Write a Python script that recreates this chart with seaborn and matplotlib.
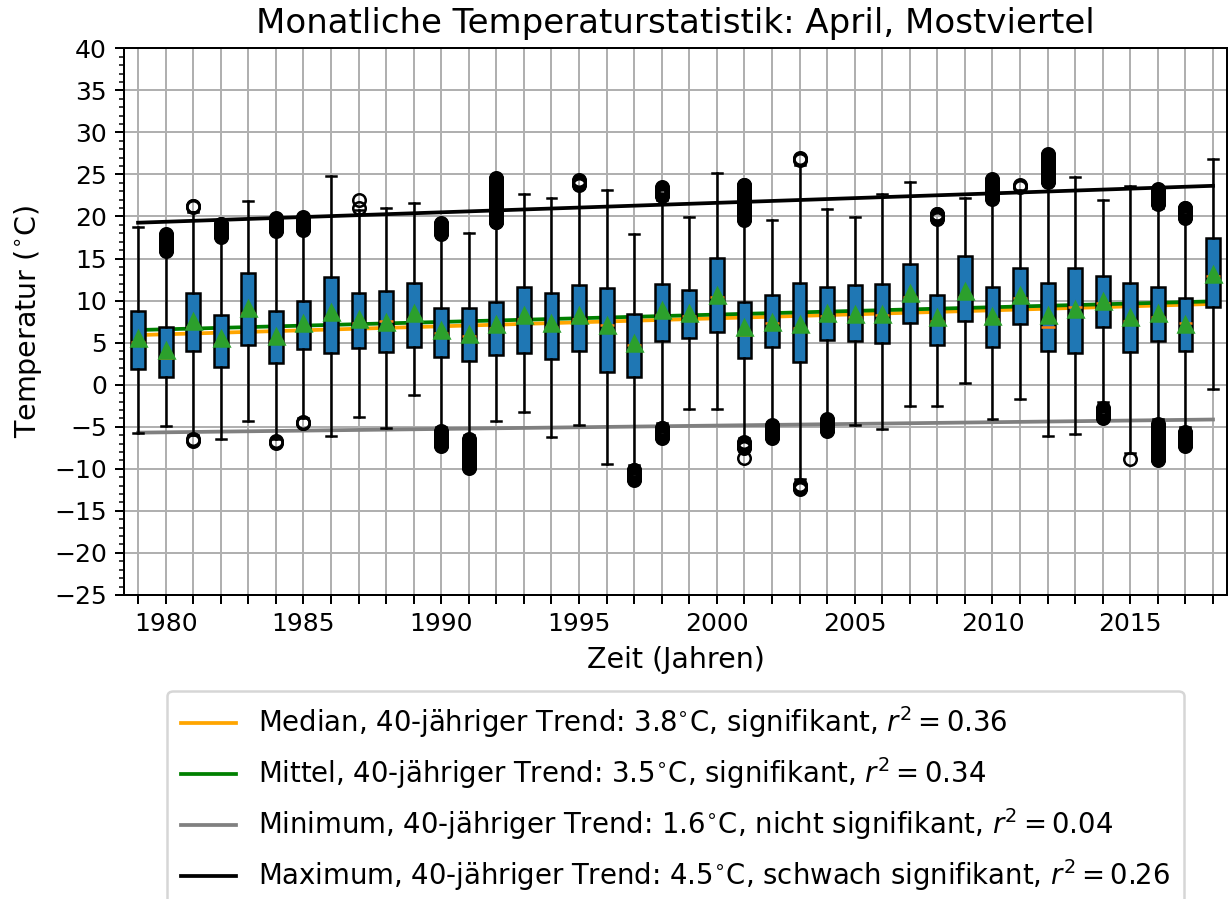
import numpy as np
import matplotlib
matplotlib.use("Agg")
import matplotlib.pyplot as plt
from matplotlib.ticker import MultipleLocator
import seaborn as sns

# April temperatures per year, Mostviertel
years = list(range(1979, 2019))
q1 = [1.83, 0.95, 4.04, 2.14, 4.68, 2.54, 4.20, 3.73, 4.33, 3.85,
      4.52, 3.33, 2.85, 3.50, 3.73, 3.02, 4.04, 1.47, 0.95, 5.23,
      5.52, 6.23, 3.17, 4.52, 2.66, 5.32, 5.23, 4.92, 7.30, 4.72,
      7.61, 4.52, 7.22, 4.04, 3.73, 6.90, 3.85, 5.23, 4.04, 9.27]
med = [5.04, 3.17, 6.90, 4.88, 8.56, 5.23, 6.70, 7.97, 7.30, 7.57,
       7.81, 6.11, 5.83, 6.70, 7.81, 6.90, 7.78, 7.10, 4.72, 8.29,
       8.20, 10.46, 5.87, 7.37, 6.70, 8.17, 8.01, 8.29, 10.39, 7.57,
       10.46, 7.78, 10.27, 6.90, 9.27, 9.68, 7.61, 8.09, 7.30, 12.96]
q3 = [8.76, 6.90, 10.94, 8.25, 13.32, 8.76, 9.91, 12.81, 10.94, 11.14,
      12.13, 9.08, 9.08, 9.80, 11.66, 10.94, 11.82, 11.46, 8.41, 11.97,
      11.26, 15.03, 9.80, 10.67, 12.13, 11.66, 11.82, 11.93, 14.31, 10.63,
      15.30, 11.66, 13.84, 12.13, 13.84, 12.96, 12.13, 11.66, 10.27, 17.41]
mean = [5.52, 4.13, 7.61, 5.52, 9.08, 5.79, 7.37, 8.60, 7.78, 7.49,
        8.49, 6.50, 6.03, 7.22, 8.29, 7.30, 8.29, 7.15, 4.92, 8.88,
        8.56, 10.67, 6.82, 7.49, 7.22, 8.56, 8.41, 8.37, 10.94, 8.01,
        11.18, 8.17, 10.67, 8.29, 8.96, 9.99, 8.09, 8.56, 7.22, 13.16]
whislo = [-5.71, -4.91, -6.0, -6.46, -4.28, -6.4, -4.0, -6.1, -3.88, -5.11,
          -1.22, -5.0, -6.0, -4.28, -3.25, -6.26, -4.79, -9.43, -9.6, -4.6,
          -2.89, -2.85, -6.3, -4.4, -11.2, -3.9, -4.76, -5.27, -2.53, -2.53,
          0.16, -4.12, -1.7, -6.1, -5.9, -2.0, -8.1, -4.1, -5.0, -0.51]
whishi = [18.7, 15.7, 20.5, 17.3, 21.84, 18.0, 18.2, 24.85, 20.8, 20.97,
          21.64, 17.6, 18.0, 19.0, 22.68, 22.16, 23.4, 23.16, 17.88, 22.0,
          19.9, 25.21, 19.4, 19.58, 26.1, 20.89, 19.9, 22.68, 24.14, 19.4,
          22.16, 21.8, 23.2, 23.8, 24.66, 21.96, 23.63, 21.0, 19.5, 26.84]
# outlier clusters as (lowest, highest) values
fl_hi = [[], [(15.9, 17.9)], [(21.1, 21.3)], [(17.56, 19.15)], [], [(18.3, 19.8)],
         [(18.4, 19.9)], [], [(21.05, 21.05), (21.95, 21.95)], [],
         [], [(17.96, 19.26)], [], [(19.3, 24.6)], [], [], [(23.8, 24.3)], [], [],
         [(22.4, 23.5)], [], [], [(19.6, 23.8)], [], [(26.7, 26.9)], [], [], [], [],
         [(19.74, 20.33)], [], [(22.1, 24.4)], [(23.5, 23.7)], [(24.1, 27.4)], [], [],
         [], [(21.45, 23.2)], [(19.85, 21.05)], []]
fl_lo = [[], [], [(-6.7, -6.5)], [], [], [(-6.9, -6.7)], [(-4.6, -4.4)], [], [], [],
         [], [(-7.3, -5.5)], [(-9.9, -6.5)], [], [], [], [], [], [(-11.3, -10.1)],
         [(-6.3, -5.1)], [], [], [(-8.75, -8.75), (-7.5, -6.8)], [(-6.3, -4.75)],
         [(-12.4, -11.9)], [(-5.5, -4.14)], [], [], [], [], [], [], [], [], [],
         [(-3.96, -2.76)], [(-8.8, -8.8)], [(-8.9, -4.74)], [(-7.3, -5.6)], []]

# trend lines: value in 1979 and change over 40 years (median, mean, min, max)
trend_start = [5.9, 6.5, -5.7, 19.26]
trend_40y = [3.8, 3.5, 1.6, 4.5]
trend_colors = ['orange', 'green', 'gray', 'black']
labels = ["Median, 40-jähriger Trend: 3.8$^{\\circ}$C, signifikant, $r^2=0.36$",
          "Mittel, 40-jähriger Trend: 3.5$^{\\circ}$C, signifikant, $r^2=0.34$",
          "Minimum, 40-jähriger Trend: 1.6$^{\\circ}$C, nicht signifikant, $r^2=0.04$",
          "Maximum, 40-jähriger Trend: 4.5$^{\\circ}$C, schwach signifikant, $r^2=0.26$"]

plt.rcParams['font.family'] = ['DejaVu Sans']

# Build box statistics for each year
stats = []
for i in range(len(years)):
    pts = []
    for lo, hi in fl_lo[i] + fl_hi[i]:
        pts.extend(np.arange(lo, hi + 0.05, 0.1))
    stats.append(dict(q1=q1[i], med=med[i], q3=q3[i], mean=mean[i],
                      whislo=whislo[i], whishi=whishi[i], fliers=np.array(pts)))

fig = plt.figure(figsize=(1228 / 180, 899 / 180), dpi=180)
ax = fig.add_axes([0.1012, 0.3382, 0.8978, 0.6081])

# Linear trends
yrs = np.array(years)
for start, tr, col, lab in zip(trend_start, trend_40y, trend_colors, labels):
    sns.lineplot(x=yrs, y=start + tr / 40 * (yrs - yrs[0]), color=col, lw=1.5,
                 label=lab, ax=ax)

ax.bxp(stats, positions=years, widths=0.5, capwidths=0.36, patch_artist=True,
       showmeans=True, manage_ticks=False,
       boxprops=dict(facecolor='C0', edgecolor='black'),
       medianprops=dict(color='C1'),
       meanprops=dict(marker='^', markerfacecolor='C2', markeredgecolor='C2', markersize=6),
       flierprops=dict(marker='o', markerfacecolor='none', markeredgecolor='black', markersize=5))

ax.set_xlim(1978.5, 2018.5)
ax.set_ylim(-25, 40)
ax.set_xticks(years)
ax.set_xticklabels([str(y) if y % 5 == 0 else '' for y in years])
ax.yaxis.set_major_locator(MultipleLocator(5))
ax.yaxis.set_minor_locator(MultipleLocator(1))
ax.tick_params(labelsize=10)
ax.grid(True, which='major')

ax.set_title('Monatliche Temperaturstatistik: April, Mostviertel', fontsize=13.6)
ax.set_xlabel('Zeit (Jahren)', fontsize=11.4)
ax.set_ylabel('Temperatur ($^{\\circ}$C)', fontsize=11.4)

ax.legend(loc='upper center', bbox_to_anchor=(0.5, -0.15), fontsize=11,
          labelspacing=0.55, borderpad=0.5)

fig.savefig('out.png', dpi=180)
